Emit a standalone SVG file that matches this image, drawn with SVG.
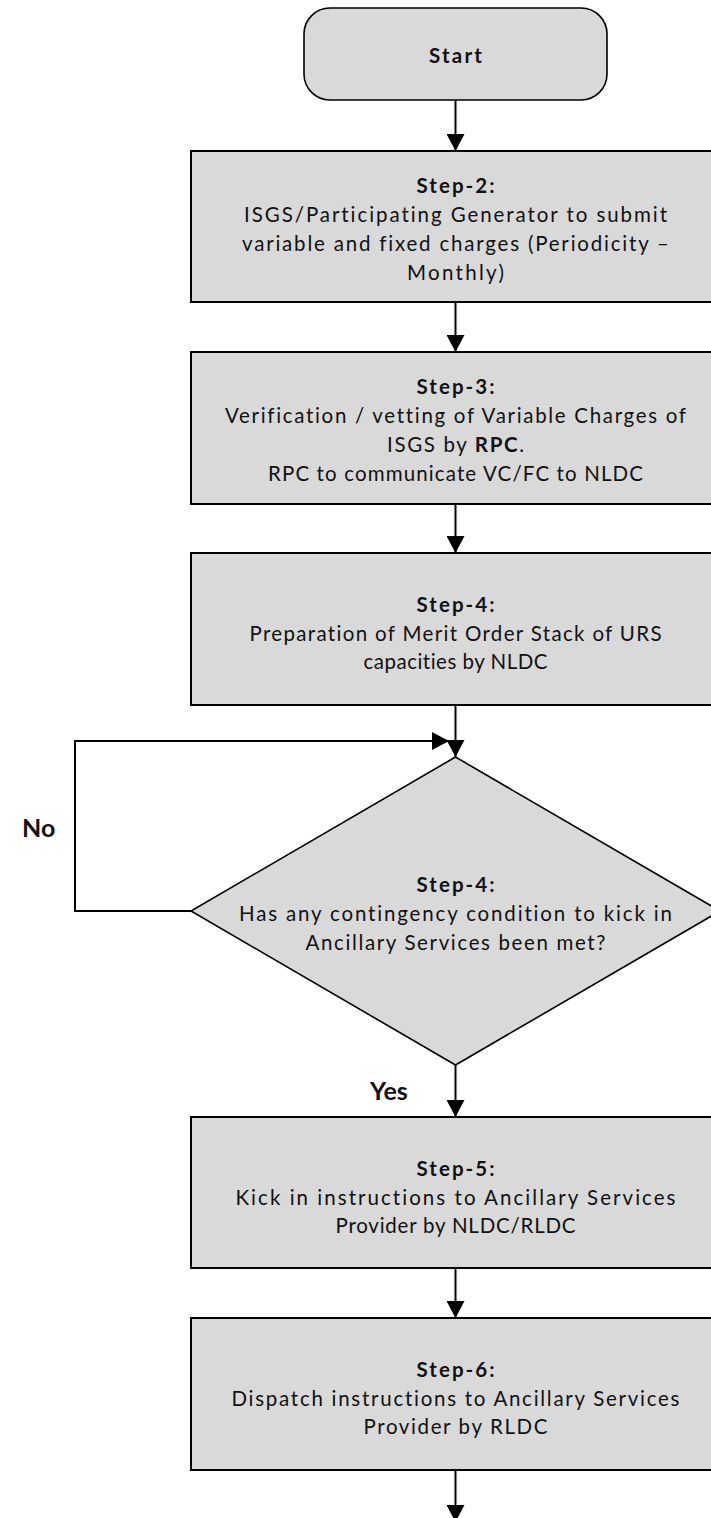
<svg xmlns="http://www.w3.org/2000/svg" width="711" height="1518" viewBox="0 0 711 1518">
<style>
.box{fill:#d9d9d9;stroke:#000;stroke-width:2}
.dia{fill:#d9d9d9;stroke:#000;stroke-width:1.6}
.term{fill:#d9d9d9;stroke:#000;stroke-width:1.6}
.t{font-family:Lato,"Open Sans","Liberation Sans",sans-serif;font-size:20.5px;fill:#111;text-anchor:middle;font-variant-ligatures:none}
.b{font-weight:bold}
.lbl{font-family:Lato,"Open Sans","Liberation Sans",sans-serif;font-size:25px;font-weight:bold;fill:#111}
.conn{fill:none;stroke:#000;stroke-width:2}
</style>
<defs>
<marker id="ah" markerUnits="userSpaceOnUse" markerWidth="18" markerHeight="18" refX="17" refY="9" orient="auto">
<path d="M0,0 L17,9 L0,18 z" fill="#000"/>
</marker>
</defs>
<g id="connectors">
<path class="conn" d="M455.5,100 V151" marker-end="url(#ah)"/>
<path class="conn" d="M455.5,302 V352" marker-end="url(#ah)"/>
<path class="conn" d="M455.5,504 V553" marker-end="url(#ah)"/>
<path class="conn" d="M455.5,705 V757" marker-end="url(#ah)"/>
<path class="conn" d="M191,911 H75 V741 H449" marker-end="url(#ah)"/>
<path class="conn" d="M455.5,1065 V1117" marker-end="url(#ah)"/>
<path class="conn" d="M455.5,1268 V1318" marker-end="url(#ah)"/>
<path class="conn" d="M455.5,1470 V1522" marker-end="url(#ah)"/>
<text class="lbl" x="22" y="837">No</text>
<text class="lbl" x="370" y="1100">Yes</text>
</g>
<g id="start">
<rect class="term" x="304" y="8" width="303" height="92" rx="26" ry="26"/>
<text class="t b" x="455.5" y="63" font-size="21.5" textLength="53" lengthAdjust="spacing">Start</text>
</g>
<g id="step2">
<rect class="box" x="191" y="151" width="529" height="151"/>
<text class="t b" x="455.5" y="193" textLength="78" lengthAdjust="spacing">Step-2:</text>
<text class="t" x="455.5" y="222" textLength="423" lengthAdjust="spacing">ISGS/Participating Generator to submit</text>
<text class="t" x="455.5" y="251" textLength="427" lengthAdjust="spacing">variable and fixed charges (Periodicity –</text>
<text class="t" x="455.5" y="280" textLength="97" lengthAdjust="spacing">Monthly)</text>
</g>
<g id="step3">
<rect class="box" x="191" y="352" width="529" height="152"/>
<text class="t b" x="455.5" y="394" textLength="78" lengthAdjust="spacing">Step-3:</text>
<text class="t" x="455.5" y="423" textLength="461" lengthAdjust="spacing">Verification / vetting of Variable Charges of</text>
<text class="t" x="455.5" y="452" textLength="137" lengthAdjust="spacing">ISGS by <tspan class="b">RPC</tspan>.</text>
<text class="t" x="455.5" y="481" textLength="375" lengthAdjust="spacing">RPC to communicate VC/FC to NLDC</text>
</g>
<g id="step4">
<rect class="box" x="191" y="553" width="529" height="152"/>
<text class="t b" x="455.5" y="612" textLength="78" lengthAdjust="spacing">Step-4:</text>
<text class="t" x="455.5" y="641" textLength="412" lengthAdjust="spacing">Preparation of Merit Order Stack of URS</text>
<text class="t" x="455.5" y="669" textLength="184" lengthAdjust="spacing">capacities by NLDC</text>
</g>
<g id="decision">
<polygon class="dia" points="455.5,757 720,911 455.5,1065 191,911"/>
<text class="t b" x="455.5" y="892" textLength="78" lengthAdjust="spacing">Step-4:</text>
<text class="t" x="455.5" y="921" textLength="433" lengthAdjust="spacing">Has any contingency condition to kick in</text>
<text class="t" x="455.5" y="950" textLength="300" lengthAdjust="spacing">Ancillary Services been met?</text>
</g>
<g id="step5">
<rect class="box" x="191" y="1117" width="529" height="151"/>
<text class="t b" x="455.5" y="1176" textLength="78" lengthAdjust="spacing">Step-5:</text>
<text class="t" x="455.5" y="1205" textLength="440" lengthAdjust="spacing">Kick in instructions to Ancillary Services</text>
<text class="t" x="455.5" y="1233" textLength="240" lengthAdjust="spacing">Provider by NLDC/RLDC</text>
</g>
<g id="step6">
<rect class="box" x="191" y="1318" width="529" height="152"/>
<text class="t b" x="455.5" y="1377" textLength="78" lengthAdjust="spacing">Step-6:</text>
<text class="t" x="455.5" y="1406" textLength="448" lengthAdjust="spacing">Dispatch instructions to Ancillary Services</text>
<text class="t" x="455.5" y="1434" textLength="184" lengthAdjust="spacing">Provider by RLDC</text>
</g>
</svg>
